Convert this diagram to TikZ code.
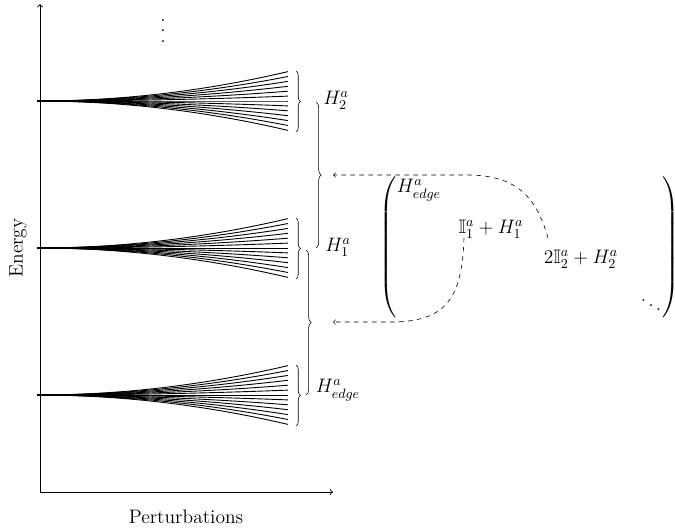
\RequirePackage{fix-cm}
\documentclass[tikz,border=0pt]{standalone}
\usepackage{amsmath,amssymb}
\usetikzlibrary{decorations.pathreplacing}
\begin{document}
\begin{tikzpicture}[x=0.6667pt,y=-0.6667pt,
  every node/.style={font=\fontsize{13}{16}\selectfont},
  fanline/.style={line width=0.6pt},
  bracesm/.style={decorate,decoration={brace,amplitude=3pt}},
  bracebig/.style={decorate,decoration={brace,amplitude=3.5pt}},
  dasharrow/.style={dashed,->},
  lbl/.style={inner sep=0pt}]
\useasboundingbox (0,0) rectangle (675,531);
% axes
\coordinate (o) at (40,492);
\coordinate (ytop) at (40,4);
\coordinate (xend) at (333,492);
\draw[->,line width=0.6pt] (o) -- (ytop);
\draw[->,line width=0.6pt] (o) -- (xend);
\node[rotate=90,lbl] (energy) at (18,248) {Energy};
\node[lbl] (pert) at (186,517) {Perturbations};
\node[lbl] (vd) at (163,31) {\vbox{\baselineskip=7pt\lineskiplimit=0pt\hbox{.}\hbox{.}\hbox{.}}};
% fans
\foreach \y in {101,248,395}{
  \foreach \k in {-6,...,6}{
    \draw[fanline] plot[domain=0:1,samples=30,smooth] ({37+251*\x},{\y+\k*4.9*\x*\x});
  }
}
% small braces
\foreach \y/\n in {101/b2,248/b1,395/b0}{
  \draw[bracesm] (296,\y-30) -- coordinate[pos=0.5] (\n) (296,\y+31);
}
% big braces
\draw[bracebig] (316,102) -- coordinate[pos=0.5] (bA) (316,248);
\draw[bracebig] (306,250) -- coordinate[pos=0.5] (bB) (306,395);
\coordinate (tipA) at (333,175);
\coordinate (tipB) at (333,322);
% labels
\node[lbl] (h2) at (336,100) {$H_2^a$};
\node[lbl] (h1) at (338,247) {$H_1^a$};
\node[lbl] (he) at (338,390) {$H_{edge}^a$};
% matrix
\node[lbl] (lp) at (389,249) {$\left(\vrule height 46pt depth 46pt width 0pt\right.$};
\node[lbl] (rp) at (670,249) {$\left.\vrule height 46pt depth 46pt width 0pt\right)$};
\node[lbl] (m11) at (419,190) {$H_{edge}^a$};
\node[lbl] (m22) at (491,229) {$\mathbb{I}_1^a+H_1^a$};
\node[lbl] (m33) at (581,259) {$2\mathbb{I}_2^a+H_2^a$};
\node[lbl] (m44) at (651,301) {$\ddots$};
% dashed arrows
\coordinate (s1) at (548,238);
\coordinate (s2) at (464,238);
\coordinate (k1) at (470,175);
\coordinate (k2) at (390,322);
\draw[dasharrow] (s1) .. controls (536,195) and (515,176) .. (k1) -- (tipA);
\draw[dasharrow] (s2) .. controls (462,300) and (445,322) .. (k2) -- (tipB);
\end{tikzpicture}
\end{document}
